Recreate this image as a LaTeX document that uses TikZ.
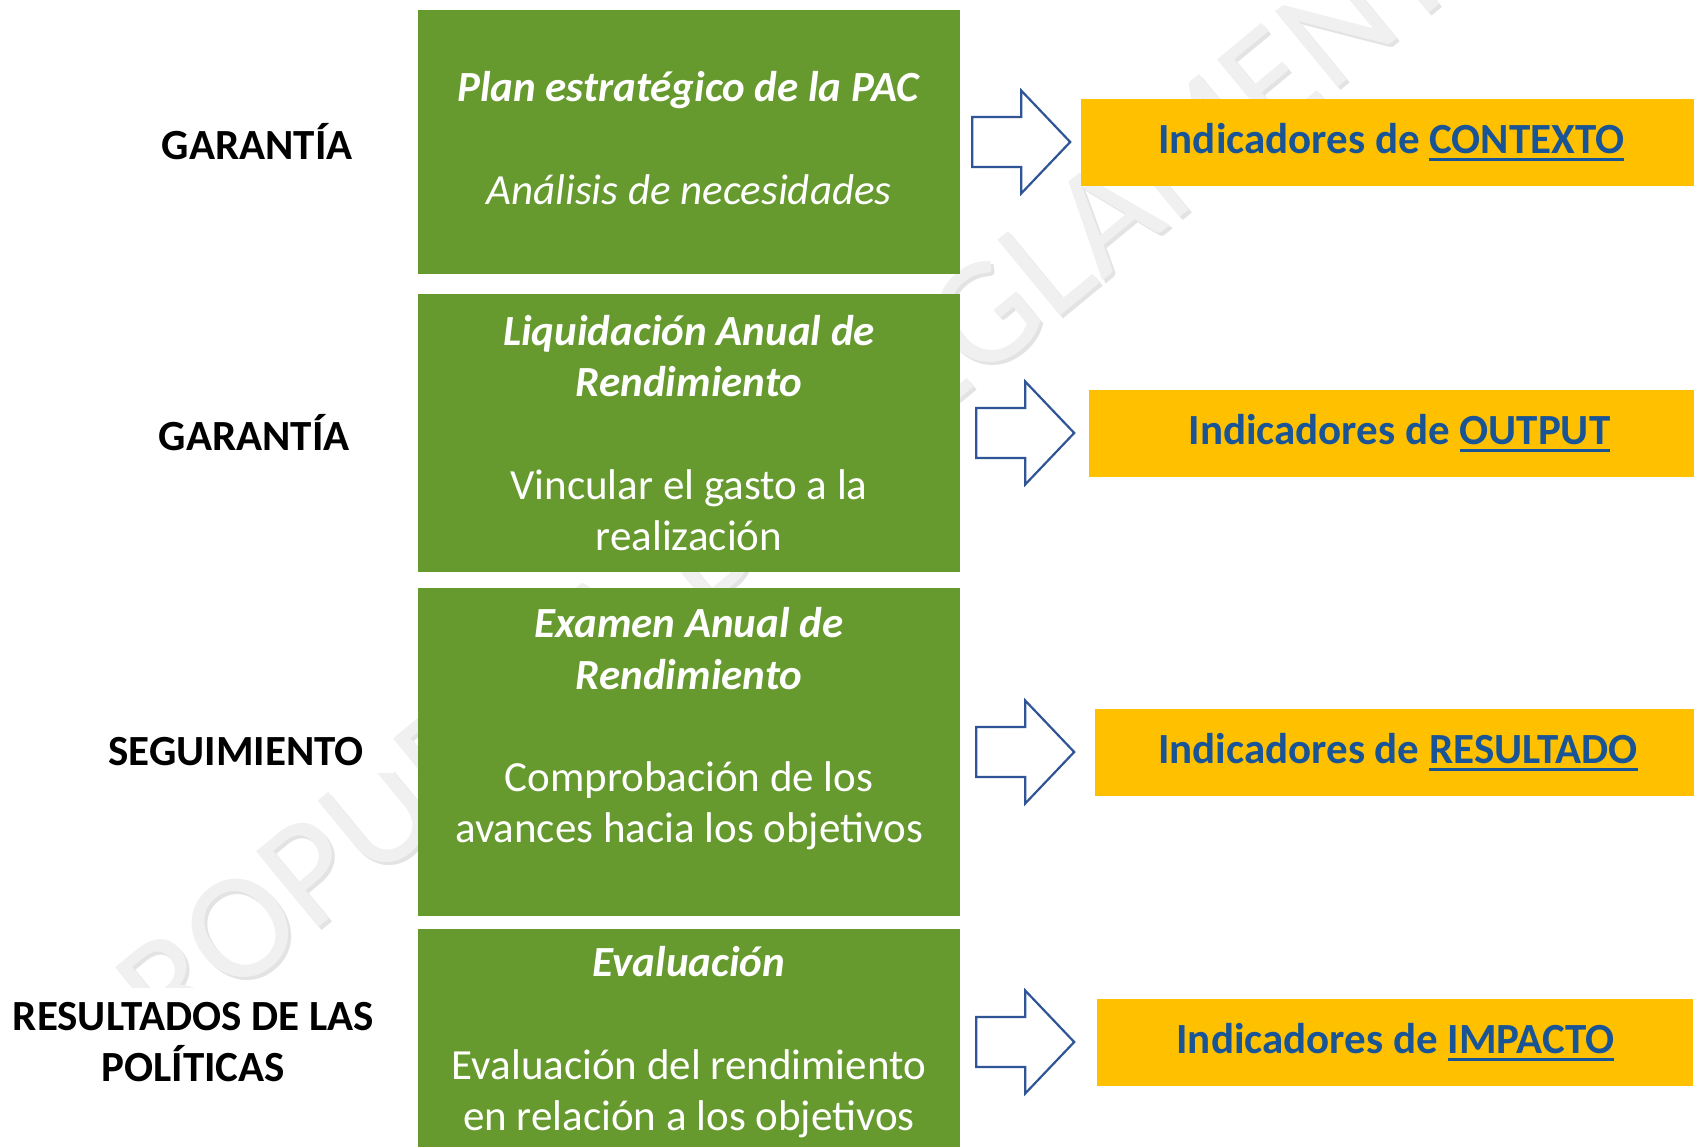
\documentclass[tikz,border=0pt]{standalone}
\usepackage{fontspec}
\setmainfont{Carlito}
\usepackage{tikz}
\usetikzlibrary{positioning}
\definecolor{pacgreen}{RGB}{102,153,46}
\definecolor{indgold}{RGB}{255,192,0}
\definecolor{indblue}{RGB}{24,84,150}
\definecolor{arrowblue}{RGB}{47,85,151}
\newcommand{\stagetitle}[1]{\textbf{\textit{#1}}}
\newcommand{\bigtext}{\fontsize{43}{51.2}\selectfont}
\newsavebox{\ulbox}
\newcommand{\ulword}[1]{\sbox{\ulbox}{#1}\rlap{\rule[-8pt]{\wd\ulbox}{2.8pt}}\usebox{\ulbox}}

\tikzset{
  stage/.style={rectangle, fill=pacgreen, text=white, minimum width=542pt,
    align=center, inner sep=0pt, font=\bigtext},
  phase/.style={fill=white, inner xsep=30pt, inner ysep=7pt, align=center,
    font=\bigtext\bfseries},
  indicator/.style={rectangle, fill=indgold, text=indblue, minimum width=620pt,
    minimum height=87pt, font=\bigtext\bfseries},
  fatarrow/.pic={
    \draw[arrowblue, line width=2.2pt]
      (0,-25) -- (49,-25) -- (49,-51.5) -- (98,0) -- (49,51.5) -- (49,25)
      -- (0,25) -- cycle;
  },
  watermark/.style={rotate=39.5, font=\fontsize{153}{180}\selectfont}
}

\begin{document}
\begin{tikzpicture}[x=1pt, y=-1pt, node distance=12pt]
  \path[use as bounding box, fill=white] (0,0) rectangle (1694,1146);

  % watermark behind everything
  \node[watermark, text=black!11] (wmshadow) at (795,477) {PROPUESTA DE REGLAMENTO};
  \node[watermark, text=black!6] (wm) at (792,474) {PROPUESTA DE REGLAMENTO};

  % stages
  \node[stage, minimum height=264pt, text depth=8pt] (plan) at (689,142)
    {\stagetitle{Plan estratégico de la PAC}\\[51.2pt]
     \textit{Análisis de necesidades}};
  \node[stage, minimum height=278pt] (liq) at (689,433)
    {\stagetitle{Liquidación Anual de}\\ \stagetitle{Rendimiento}\\[51.2pt]
     Vincular el gasto a la\\ realización};
  \node[stage, minimum height=328pt] (exam) at (689,752)
    {\stagetitle{Examen Anual de}\\ \stagetitle{Rendimiento}\\[51.2pt]
     Comprobación de los\\ avances hacia los objetivos\\[-13pt]\strut};
  \node[stage, minimum height=226pt] (eval) at (689,1042)
    {\stagetitle{Evaluación}\\[51.2pt]
     Evaluación del rendimiento\\ en relación a los objetivos};

  % phases
  \node[phase, left=35pt of plan] (gar1) {GARANTÍA};
  \node[phase, left=38pt of liq] (gar2) {GARANTÍA};
  \node[phase, left=24pt of exam] (seg) {SEGUIMIENTO};
  \node[phase, inner ysep=14pt, left=14pt of eval] (res) {RESULTADOS DE LAS\\ POLÍTICAS};

  % arrows and indicators
  \pic at ([xshift=12pt]plan.east) {fatarrow};
  \pic at ([xshift=16pt]liq.east) {fatarrow};
  \pic at ([xshift=16pt]exam.east) {fatarrow};
  \pic at ([xshift=16pt]eval.east) {fatarrow};
  \node[indicator, right=121pt of plan] (ctx) {Indicadores de \ulword{CONTEXTO}};
  \node[indicator, right=129pt of liq] (out) {Indicadores de \ulword{OUTPUT}};
  \node[indicator, minimum width=605pt, right=135pt of exam] (rsl) {Indicadores de \ulword{RESULTADO}};
  \node[indicator, minimum width=596pt, right=137pt of eval] (imp) {Indicadores de \ulword{IMPACTO}};
\end{tikzpicture}
\end{document}
